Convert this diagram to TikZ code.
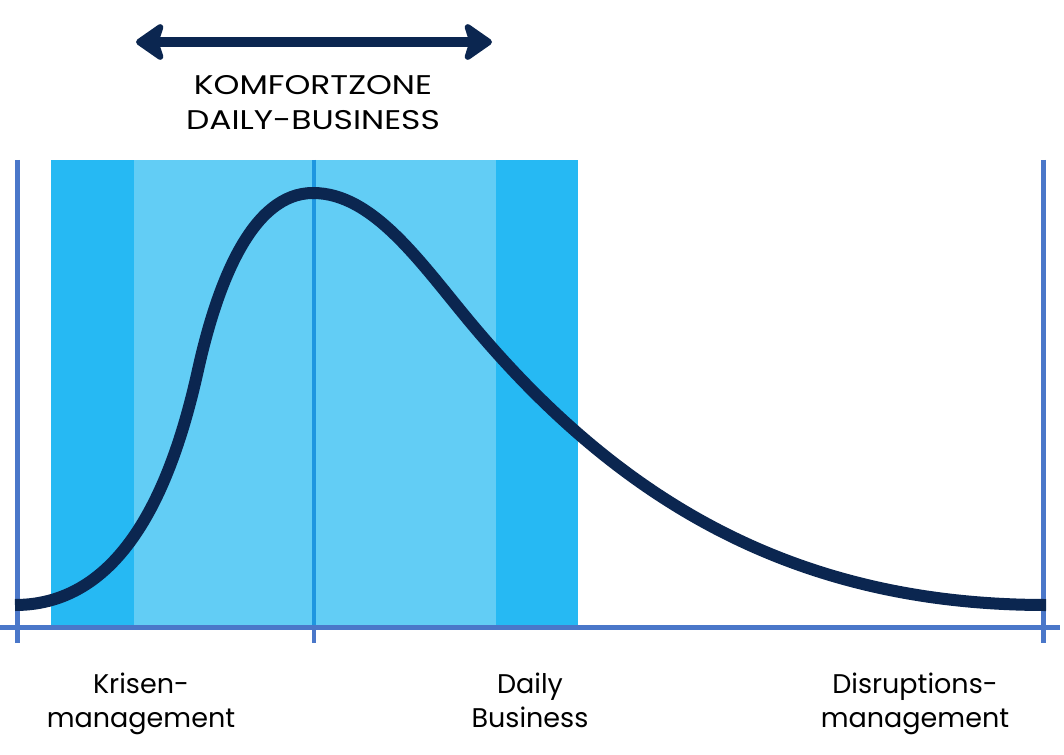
\documentclass[tikz,border=0pt]{standalone}
\usepackage{fontspec}
\setmainfont{Poppins}
\usetikzlibrary{arrows.meta}
\definecolor{banddark}{HTML}{26B9F3}
\definecolor{bandlight}{HTML}{62CDF5}
\definecolor{axisblue}{HTML}{4A77C9}
\definecolor{midblue}{HTML}{1E96E0}
\definecolor{navy}{HTML}{0B2650}
\tikzset{
  axisline/.style={axisblue, line width=5},
  curveline/.style={navy, line width=12, line cap=butt, line join=round},
  lbl/.style={align=center, font=\fontsize{27}{34}\selectfont, text=black, inner sep=0, anchor=base},
  toplbl/.style={lbl, font=\fontsize{27}{35}\selectfont},
  dblarrow/.style={navy, line width=10, {Stealth[length=32,width=44,inset=7,round]}-{Stealth[length=32,width=44,inset=7,round]}}
}
\newcommand{\wide}[1]{\scalebox{1.22}[1]{#1}}
\begin{document}
\begin{tikzpicture}[x=1pt,y=-1pt]
\useasboundingbox (0,0) rectangle (1064,754);
% bands
\fill[banddark] (51,160) rectangle (134,627);
\fill[bandlight] (134,160) rectangle (496,627);
\fill[banddark] (496,160) rectangle (578,627);
% vertical lines
\draw[midblue, line width=4] (314,160) -- (314,627);
\draw[axisline] (17,160) -- (17,643);
\draw[axisline] (1043,160) -- (1043,643);
\draw[axisblue, line width=4.5] (314,627) -- (314,643);
% curve
\draw[curveline] (15,605) .. controls (125,605) and (173,482.5) .. (198,370)
  .. controls (218,280) and (253,193) .. (313,193)
  .. controls (373,193) and (420,262) .. (470,322)
  .. controls (620,502) and (796,605) .. (1046,605);
% axis
\draw[axisline] (0,627.5) -- (1060,627.5);
% arrow
\coordinate (al) at (136,42);
\coordinate (ar) at (492,42);
\draw[dblarrow] (al) -- (ar);
% labels
\node[toplbl] (kz) at (313,130) {\wide{KOMFORTZONE}\\\wide{DAILY-BUSINESS}};
\node[lbl] (km) at (141,727) {Krisen-\\management};
\node[lbl] (db) at (530,727) {Daily\\Business};
\node[lbl] (dm) at (915,727) {Disruptions-\\management};
\end{tikzpicture}
\end{document}
